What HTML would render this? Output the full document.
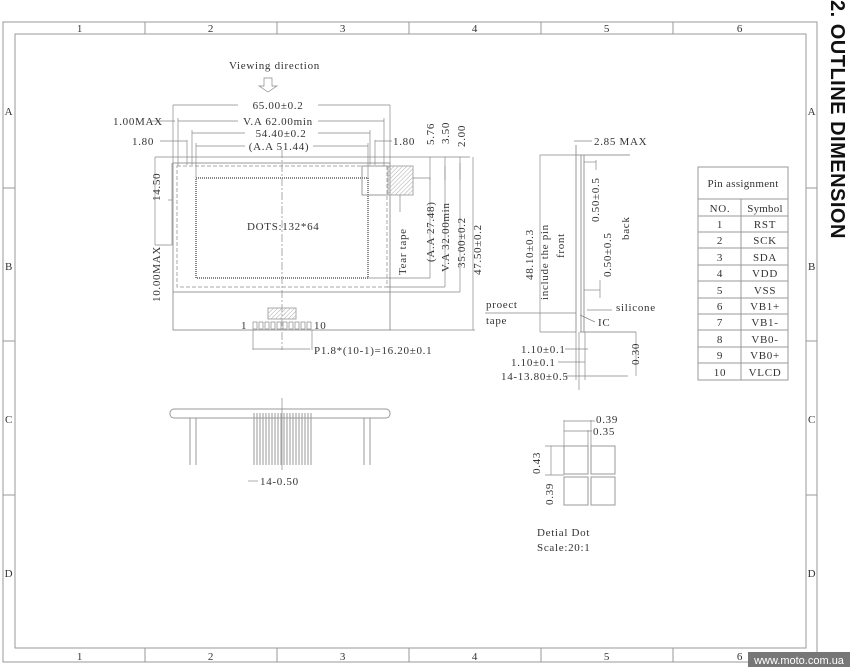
<!DOCTYPE html>
<html><head><meta charset="utf-8"><style>
html,body{margin:0;padding:0;background:#fff;width:850px;height:667px;overflow:hidden}
svg{display:block}
text{font-family:"Liberation Serif","Noto Serif CJK SC",serif;fill:#333;font-size:11px;letter-spacing:0.7px}
.s{stroke:#999;stroke-width:1;fill:none}
.d{stroke:#888;stroke-width:0.7;fill:none}
.dash{stroke:#aaa;stroke-width:1;fill:none;stroke-dasharray:4 2}
</style></head><body>
<svg width="850" height="667" viewBox="0 0 850 667" xmlns="http://www.w3.org/2000/svg">
<defs><pattern id="h" width="3" height="3" patternUnits="userSpaceOnUse" patternTransform="rotate(45)"><line x1="0" y1="0" x2="0" y2="3" stroke="#aaa" stroke-width="1"/></pattern></defs>
<rect x="3" y="22" width="814" height="640" class="s"/>
<rect x="15" y="34" width="791" height="614" class="s"/>
<g class="s">
<line x1="145" y1="22" x2="145" y2="34"/><line x1="277" y1="22" x2="277" y2="34"/><line x1="409" y1="22" x2="409" y2="34"/><line x1="541" y1="22" x2="541" y2="34"/><line x1="673" y1="22" x2="673" y2="34"/>
<line x1="145" y1="648" x2="145" y2="662"/><line x1="277" y1="648" x2="277" y2="662"/><line x1="409" y1="648" x2="409" y2="662"/><line x1="541" y1="648" x2="541" y2="662"/><line x1="673" y1="648" x2="673" y2="662"/>
<line x1="3" y1="188" x2="15" y2="188"/><line x1="3" y1="341" x2="15" y2="341"/><line x1="3" y1="495" x2="15" y2="495"/>
<line x1="806" y1="188" x2="817" y2="188"/><line x1="806" y1="341" x2="817" y2="341"/><line x1="806" y1="495" x2="817" y2="495"/>
</g>
<g text-anchor="middle">
<text x="80" y="32" font-size="13">1</text><text x="211" y="32" font-size="13">2</text><text x="343" y="32" font-size="13">3</text><text x="475" y="32" font-size="13">4</text><text x="607" y="32" font-size="13">5</text><text x="740" y="32" font-size="13">6</text>
<text x="80" y="660" font-size="13">1</text><text x="211" y="660" font-size="13">2</text><text x="343" y="660" font-size="13">3</text><text x="475" y="660" font-size="13">4</text><text x="607" y="660" font-size="13">5</text><text x="740" y="660" font-size="13">6</text>
<text x="9" y="115" font-size="12">A</text><text x="9" y="270" font-size="12">B</text><text x="9" y="423" font-size="12">C</text><text x="9" y="577" font-size="12">D</text>
<text x="812" y="115" font-size="12">A</text><text x="812" y="270" font-size="12">B</text><text x="812" y="423" font-size="12">C</text><text x="812" y="577" font-size="12">D</text>
</g>
<text transform="translate(831,0) rotate(90)" style="font-family:'Liberation Sans',sans-serif;font-weight:bold;font-size:20px;fill:#111;letter-spacing:0.5px">2. OUTLINE DIMENSION</text>
<rect x="748" y="652" width="102" height="15" fill="#777"/>
<text x="799" y="664" text-anchor="middle" style="font-family:'Liberation Sans',sans-serif;font-size:11px;fill:#fff;letter-spacing:0">www.moto.com.ua</text>

<text x="229" y="69">Viewing direction</text>
<path d="M264 78h8v8h5l-9 6-9-6h5z" class="d"/>
<rect x="173" y="163" width="217" height="167" class="s"/>
<rect x="177" y="166" width="210" height="121" class="dash"/>
<line x1="173" y1="292" x2="390" y2="292" class="s"/>
<rect x="196" y="178" width="172" height="100" fill="none" stroke="#888" stroke-width="2" stroke-dasharray="1 1"/>
<rect x="362" y="166" width="26" height="29" class="s"/>
<rect x="388" y="166" width="25" height="29" fill="url(#h)" stroke="#aaa"/>
<line x1="282" y1="150" x2="282" y2="350" class="d" stroke-dasharray="8 2 2 2"/>
<text x="247" y="230">DOTS:132*64</text>
<rect x="268" y="308" width="28" height="11" fill="url(#h)" stroke="#aaa"/>
<g class="d"><rect x="253" y="322" width="4" height="7"/><rect x="259" y="322" width="4" height="7"/><rect x="265" y="322" width="4" height="7"/><rect x="271" y="322" width="4" height="7"/><rect x="277" y="322" width="4" height="7"/><rect x="283" y="322" width="4" height="7"/><rect x="289" y="322" width="4" height="7"/><rect x="295" y="322" width="4" height="7"/><rect x="301" y="322" width="4" height="7"/><rect x="307" y="322" width="4" height="7"/></g>
<text x="241" y="329" font-size="9">1</text><text x="314" y="329" font-size="9">10</text>
<g class="d">
<line x1="173" y1="105" x2="173" y2="163"/><line x1="390" y1="105" x2="390" y2="163"/>
<line x1="173" y1="105" x2="238" y2="105"/><line x1="318" y1="105" x2="390" y2="105"/>
<line x1="178" y1="121" x2="238" y2="121"/><line x1="318" y1="121" x2="384" y2="121"/>
<line x1="178" y1="118" x2="178" y2="166"/><line x1="384" y1="118" x2="384" y2="166"/>
<line x1="150" y1="121" x2="175" y2="121"/>
<line x1="192" y1="133" x2="245" y2="133"/><line x1="318" y1="133" x2="370" y2="133"/>
<line x1="192" y1="130" x2="192" y2="165"/><line x1="370" y1="130" x2="370" y2="165"/>
<line x1="187" y1="140" x2="187" y2="165"/><line x1="375" y1="140" x2="375" y2="165"/>
<line x1="160" y1="141" x2="187" y2="141"/><line x1="375" y1="141" x2="392" y2="141"/>
<line x1="196" y1="146" x2="245" y2="146"/><line x1="313" y1="146" x2="368" y2="146"/>
<line x1="196" y1="143" x2="196" y2="178"/><line x1="368" y1="143" x2="368" y2="178"/>
<line x1="155" y1="157" x2="470" y2="157"/>
<line x1="172" y1="163" x2="172" y2="245"/><line x1="155" y1="245" x2="172" y2="245"/>
<line x1="155" y1="157" x2="155" y2="245"/>
<line x1="168" y1="200" x2="172" y2="200"/>
<line x1="253" y1="330" x2="253" y2="350"/><line x1="312" y1="330" x2="312" y2="350"/>
<line x1="253" y1="349" x2="310" y2="349"/>
<line x1="430" y1="157" x2="430" y2="180"/><line x1="445" y1="157" x2="445" y2="180"/><line x1="460" y1="157" x2="460" y2="180"/><line x1="473" y1="157" x2="473" y2="330"/>
<line x1="368" y1="278" x2="430" y2="278"/><line x1="387" y1="287" x2="445" y2="287"/><line x1="390" y1="292" x2="460" y2="292"/><line x1="390" y1="330" x2="475" y2="330"/>
<line x1="430" y1="178" x2="430" y2="278"/><line x1="445" y1="166" x2="445" y2="287"/><line x1="460" y1="163" x2="460" y2="292"/>
<line x1="400" y1="195" x2="400" y2="212"/><line x1="413" y1="178" x2="430" y2="178"/>
</g>
<g text-anchor="middle">
<text x="278" y="109">65.00±0.2</text>
<text x="278" y="125">V.A 62.00min</text>
<text x="281" y="137">54.40±0.2</text>
<text x="279" y="150">(A.A 51.44)</text>
</g>
<text x="113" y="125">1.00MAX</text>
<text x="132" y="145">1.80</text>
<text x="393" y="145">1.80</text>
<text transform="translate(160,201) rotate(-90)">14.50</text>
<text transform="translate(160,302) rotate(-90)">10.00MAX</text>
<text transform="translate(406,275) rotate(-90)">Tear tape</text>
<text transform="translate(434,262) rotate(-90)">(A.A 27.48)</text>
<text transform="translate(449,272) rotate(-90)">V.A 32.00min</text>
<text transform="translate(465,268) rotate(-90)">35.00±0.2</text>
<text transform="translate(481,275) rotate(-90)">47.50±0.2</text>
<text transform="translate(434,145) rotate(-90)">5.76</text>
<text transform="translate(449,144) rotate(-90)">3.50</text>
<text transform="translate(465,147) rotate(-90)">2.00</text>
<text x="314" y="354">P1.8*(10-1)=16.20±0.1</text>

<g class="s">
<line x1="576" y1="145" x2="576" y2="332"/><line x1="581" y1="155" x2="581" y2="332"/><line x1="584" y1="155" x2="584" y2="285"/>
<line x1="576" y1="155" x2="630" y2="155"/><line x1="580" y1="332" x2="636" y2="332"/>
<line x1="584" y1="285" x2="584" y2="332"/>
</g>
<g class="d">
<line x1="574" y1="141" x2="592" y2="141"/>
<line x1="540" y1="155" x2="576" y2="155"/><line x1="540" y1="332" x2="576" y2="332"/>
<line x1="540" y1="155" x2="540" y2="332"/>
<line x1="584" y1="162" x2="596" y2="162"/><line x1="596" y1="160" x2="596" y2="170"/>
<line x1="584" y1="290" x2="600" y2="290"/><line x1="600" y1="280" x2="600" y2="298"/>
<line x1="587" y1="310" x2="612" y2="310"/><line x1="580" y1="315" x2="595" y2="322"/>
<line x1="485" y1="313" x2="576" y2="313"/>
<line x1="579" y1="332" x2="579" y2="390"/><line x1="585" y1="332" x2="585" y2="380"/><line x1="576" y1="332" x2="576" y2="380"/>
<line x1="565" y1="349" x2="588" y2="349"/><line x1="558" y1="362" x2="585" y2="362"/><line x1="565" y1="376" x2="628" y2="376"/>
<line x1="636" y1="332" x2="636" y2="376"/>
</g>
<text x="594" y="145">2.85 MAX</text>
<text transform="translate(533,280) rotate(-90)">48.10±0.3</text>
<text transform="translate(548,300) rotate(-90)">include the pin</text>
<text transform="translate(564,258) rotate(-90)">front</text>
<text transform="translate(599,222) rotate(-90)">0.50±0.5</text>
<text transform="translate(611,277) rotate(-90)">0.50±0.5</text>
<text transform="translate(629,240) rotate(-90)">back</text>
<text x="616" y="311">silicone</text>
<text x="598" y="326">IC</text>
<text x="486" y="308">proect</text>
<text x="486" y="324">tape</text>
<text x="521" y="353">1.10±0.1</text>
<text x="511" y="366">1.10±0.1</text>
<text x="501" y="380">14-13.80±0.5</text>
<text transform="translate(639,365) rotate(-90)">0.30</text>

<g class="s">
<rect x="698" y="167" width="90" height="213"/>
<line x1="698" y1="199" x2="788" y2="199"/>
<line x1="741" y1="199" x2="741" y2="380"/>
<line x1="698" y1="216" x2="788" y2="216"/><line x1="698" y1="232" x2="788" y2="232"/><line x1="698" y1="248" x2="788" y2="248"/><line x1="698" y1="265" x2="788" y2="265"/><line x1="698" y1="281" x2="788" y2="281"/><line x1="698" y1="298" x2="788" y2="298"/><line x1="698" y1="314" x2="788" y2="314"/><line x1="698" y1="330" x2="788" y2="330"/><line x1="698" y1="347" x2="788" y2="347"/><line x1="698" y1="363" x2="788" y2="363"/>
</g>
<g text-anchor="middle">
<text x="743" y="187" style="letter-spacing:0.3px">Pin assignment</text>
<text x="720" y="212">NO.</text><text x="765" y="212" style="letter-spacing:0.2px">Symbol</text>
<text x="720" y="228">1</text><text x="765" y="228">RST</text>
<text x="720" y="244">2</text><text x="765" y="244">SCK</text>
<text x="720" y="261">3</text><text x="765" y="261">SDA</text>
<text x="720" y="277">4</text><text x="765" y="277">VDD</text>
<text x="720" y="294">5</text><text x="765" y="294">VSS</text>
<text x="720" y="310">6</text><text x="765" y="310">VB1+</text>
<text x="720" y="326">7</text><text x="765" y="326">VB1-</text>
<text x="720" y="343">8</text><text x="765" y="343">VB0-</text>
<text x="720" y="359">9</text><text x="765" y="359">VB0+</text>
<text x="720" y="376">10</text><text x="765" y="376">VLCD</text>
</g>

<g class="s">
<rect x="170" y="409" width="220" height="9" rx="4"/>
<line x1="190" y1="418" x2="190" y2="465"/><line x1="196" y1="418" x2="196" y2="465"/>
<line x1="364" y1="418" x2="364" y2="465"/><line x1="370" y1="418" x2="370" y2="465"/>
<line x1="254" y1="413" x2="254" y2="465"/><line x1="257" y1="413" x2="257" y2="465"/>
<line x1="260" y1="413" x2="260" y2="465"/><line x1="263" y1="413" x2="263" y2="465"/>
<line x1="266" y1="413" x2="266" y2="465"/><line x1="269" y1="413" x2="269" y2="465"/>
<line x1="272" y1="413" x2="272" y2="465"/><line x1="275" y1="413" x2="275" y2="465"/>
<line x1="278" y1="413" x2="278" y2="465"/><line x1="281" y1="413" x2="281" y2="465"/>
<line x1="284" y1="413" x2="284" y2="465"/><line x1="287" y1="413" x2="287" y2="465"/>
<line x1="290" y1="413" x2="290" y2="465"/><line x1="293" y1="413" x2="293" y2="465"/>
<line x1="296" y1="413" x2="296" y2="465"/><line x1="299" y1="413" x2="299" y2="465"/>
<line x1="302" y1="413" x2="302" y2="465"/><line x1="305" y1="413" x2="305" y2="465"/>
<line x1="308" y1="413" x2="308" y2="465"/><line x1="311" y1="413" x2="311" y2="465"/>
</g>
<line x1="282" y1="398" x2="282" y2="470" class="d"/>
<line x1="248" y1="481" x2="258" y2="481" class="d"/>
<text x="260" y="485">14-0.50</text>

<g class="s">
<rect x="564" y="446" width="24" height="28"/><rect x="591" y="446" width="24" height="28"/>
<rect x="564" y="477" width="24" height="28"/><rect x="591" y="477" width="24" height="28"/>
</g>
<g class="d">
<line x1="564" y1="420" x2="564" y2="446"/><line x1="591" y1="420" x2="591" y2="446"/><line x1="588" y1="430" x2="588" y2="446"/>
<line x1="564" y1="421" x2="595" y2="421"/><line x1="564" y1="431" x2="592" y2="431"/>
<line x1="545" y1="446" x2="564" y2="446"/><line x1="545" y1="475" x2="564" y2="475"/><line x1="551" y1="446" x2="551" y2="475"/>
</g>
<text x="596" y="423">0.39</text>
<text x="593" y="435">0.35</text>
<text transform="translate(540,474) rotate(-90)">0.43</text>
<text transform="translate(553,505) rotate(-90)">0.39</text>
<text x="537" y="536">Detial Dot</text>
<text x="537" y="551">Scale:20:1</text>
</svg>
</body></html>
